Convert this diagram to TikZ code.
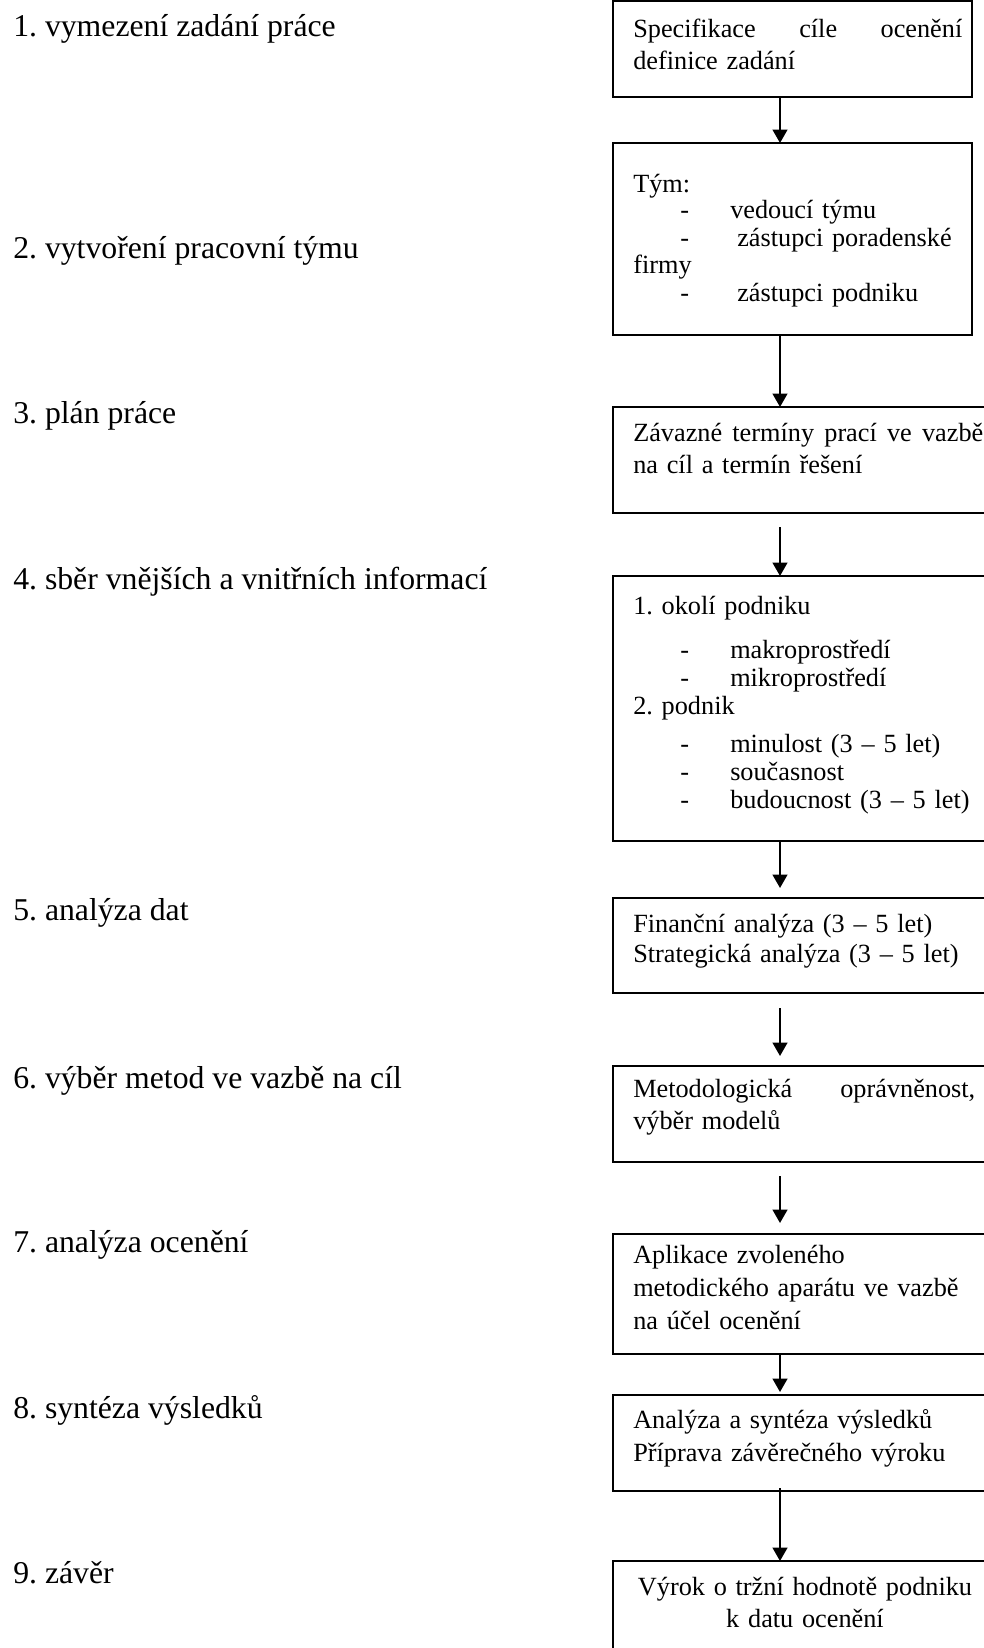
\documentclass[tikz,border=0pt]{standalone}
\usepackage{fontspec}
\setmainfont{Liberation Serif}
\usetikzlibrary{arrows.meta,calc}
\frenchspacing
% list item: hyphen indented, then the item text at a fixed offset
\newcommand{\itm}[2][72.75pt]{\makebox[#1][l]{\hspace*{35.25pt}-}#2}
% a line spread over a given width
\newcommand{\spread}[2]{\leavevmode\hbox to #1{#2}}
\begin{document}
\begin{tikzpicture}[x=0.75pt,y=-0.75pt,
  stepbox/.style={draw, line width=1.5pt, anchor=north west, inner sep=0pt, outer sep=0pt},
  boxtext/.style={anchor=base west, inner sep=0pt, text width=300pt,
    font=\fontsize{19.7pt}{24pt}\selectfont},
  lbl/.style={anchor=base west, inner sep=0pt, font=\fontsize{23.8pt}{28pt}\selectfont},
  arr/.style={line width=1.5pt, -{Triangle[width=11pt,length=10pt]}}]
\useasboundingbox (0,0) rectangle (984,1648);
\clip (0,0) rectangle (984,1648);

% step labels on the left
\node[lbl] (l1) at (13,37)   {1. vymezení zadání práce};
\node[lbl] (l2) at (13,258)  {2. vytvoření pracovní týmu};
\node[lbl] (l3) at (13,423)  {3. plán práce};
\node[lbl] (l4) at (13,589)  {4. sběr vnějších a vnitřních informací};
\node[lbl] (l5) at (13,920)  {5. analýza dat};
\node[lbl] (l6) at (13,1088) {6. výběr metod ve vazbě na cíl};
\node[lbl] (l7) at (13,1252) {7. analýza ocenění};
\node[lbl] (l8) at (13,1418) {8. syntéza výsledků};
\node[lbl] (l9) at (13,1583) {9. závěr};

% boxes of the process
\node[stepbox, minimum width=269.25pt, minimum height=72pt]     (b1) at (613,1)    {};
\node[stepbox, minimum width=269.25pt, minimum height=144pt]    (b2) at (613,143)  {};
\node[stepbox, minimum width=288pt,    minimum height=79.5pt]   (b3) at (613,407)  {};
\node[stepbox, minimum width=288pt,    minimum height=198.75pt] (b4) at (613,576)  {};
\node[stepbox, minimum width=288pt,    minimum height=71.25pt]  (b5) at (613,898)  {};
\node[stepbox, minimum width=288pt,    minimum height=72pt]     (b6) at (613,1066) {};
\node[stepbox, minimum width=288pt,    minimum height=90pt]     (b7) at (613,1234) {};
\node[stepbox, minimum width=288pt,    minimum height=72pt]     (b8) at (613,1395) {};
\node[stepbox, minimum width=288pt,    minimum height=90pt]     (b9) at (613,1561) {};

% box texts
\node[boxtext] (t1) at (633,38)
  {\spread{246.75pt}{Specifikace\hfill cíle\hfill ocenění}\\definice zadání};
\node[boxtext, font=\fontsize{19.7pt}{20.25pt}\selectfont] (t2) at (633,192)
  {Tým:\\\itm{vedoucí týmu}\\\itm[78pt]{zástupci poradenské}\\firmy\\[0.75pt]\itm[78pt]{zástupci podniku}};
\node[boxtext] (t3) at (633,441)
  {\spread{262.5pt}{Závazné\hfill termíny\hfill prací\hfill ve\hfill vazbě}\\na cíl a termín řešení};
\node[boxtext, font=\fontsize{19.7pt}{21pt}\selectfont] (t4) at (633,614)
  {1. okolí podniku\\[12pt]\itm{makroprostředí}\\\itm{mikroprostředí}\\2. podnik\\[7.5pt]%
   \itm{minulost (3 – 5 let)}\\\itm{současnost}\\\itm{budoucnost (3 – 5 let)}};
\node[boxtext, font=\fontsize{19.7pt}{23pt}\selectfont] (t5) at (633,932)
  {Finanční analýza (3 – 5 let)\\Strategická analýza (3 – 5 let)};
\node[boxtext] (t6) at (633,1097)
  {\spread{256.5pt}{Metodologická\hfill oprávněnost,}\\výběr modelů};
\node[boxtext, font=\fontsize{19.7pt}{25pt}\selectfont] (t7) at (633,1263)
  {Aplikace zvoleného\\metodického aparátu ve vazbě\\na účel ocenění};
\node[boxtext, font=\fontsize{19.7pt}{25pt}\selectfont] (t8) at (633,1428)
  {Analýza a syntéza výsledků\\Příprava závěrečného výroku};
\node[boxtext, anchor=base, text width=288pt] (t9) at (805,1595)
  {\centering Výrok o tržní hodnotě podniku\\k datu ocenění\par};

% connectors
\draw[arr] ($(b1.south west)+(167,0)$)  -- ($(b2.north west)+(167,0)$);
\draw[arr] ($(b2.south west)+(167,0)$)  -- ($(b3.north west)+(167,0)$);
\draw[arr] ($(b3.south west)+(167,14)$) -- ($(b4.north west)+(167,0)$);
\draw[arr] ($(b4.south west)+(167,0)$)  -- ($(b5.north west)+(167,-10)$);
\draw[arr] ($(b5.south west)+(167,15)$) -- ($(b6.north west)+(167,-10)$);
\draw[arr] ($(b6.south west)+(167,14)$) -- ($(b7.north west)+(167,-11)$);
\draw[arr] ($(b7.south west)+(167,0)$)  -- ($(b8.north west)+(167,-3)$);
\draw[arr] ($(b8.south west)+(167,-3)$) -- ($(b9.north west)+(167,0)$);
\end{tikzpicture}
\end{document}
